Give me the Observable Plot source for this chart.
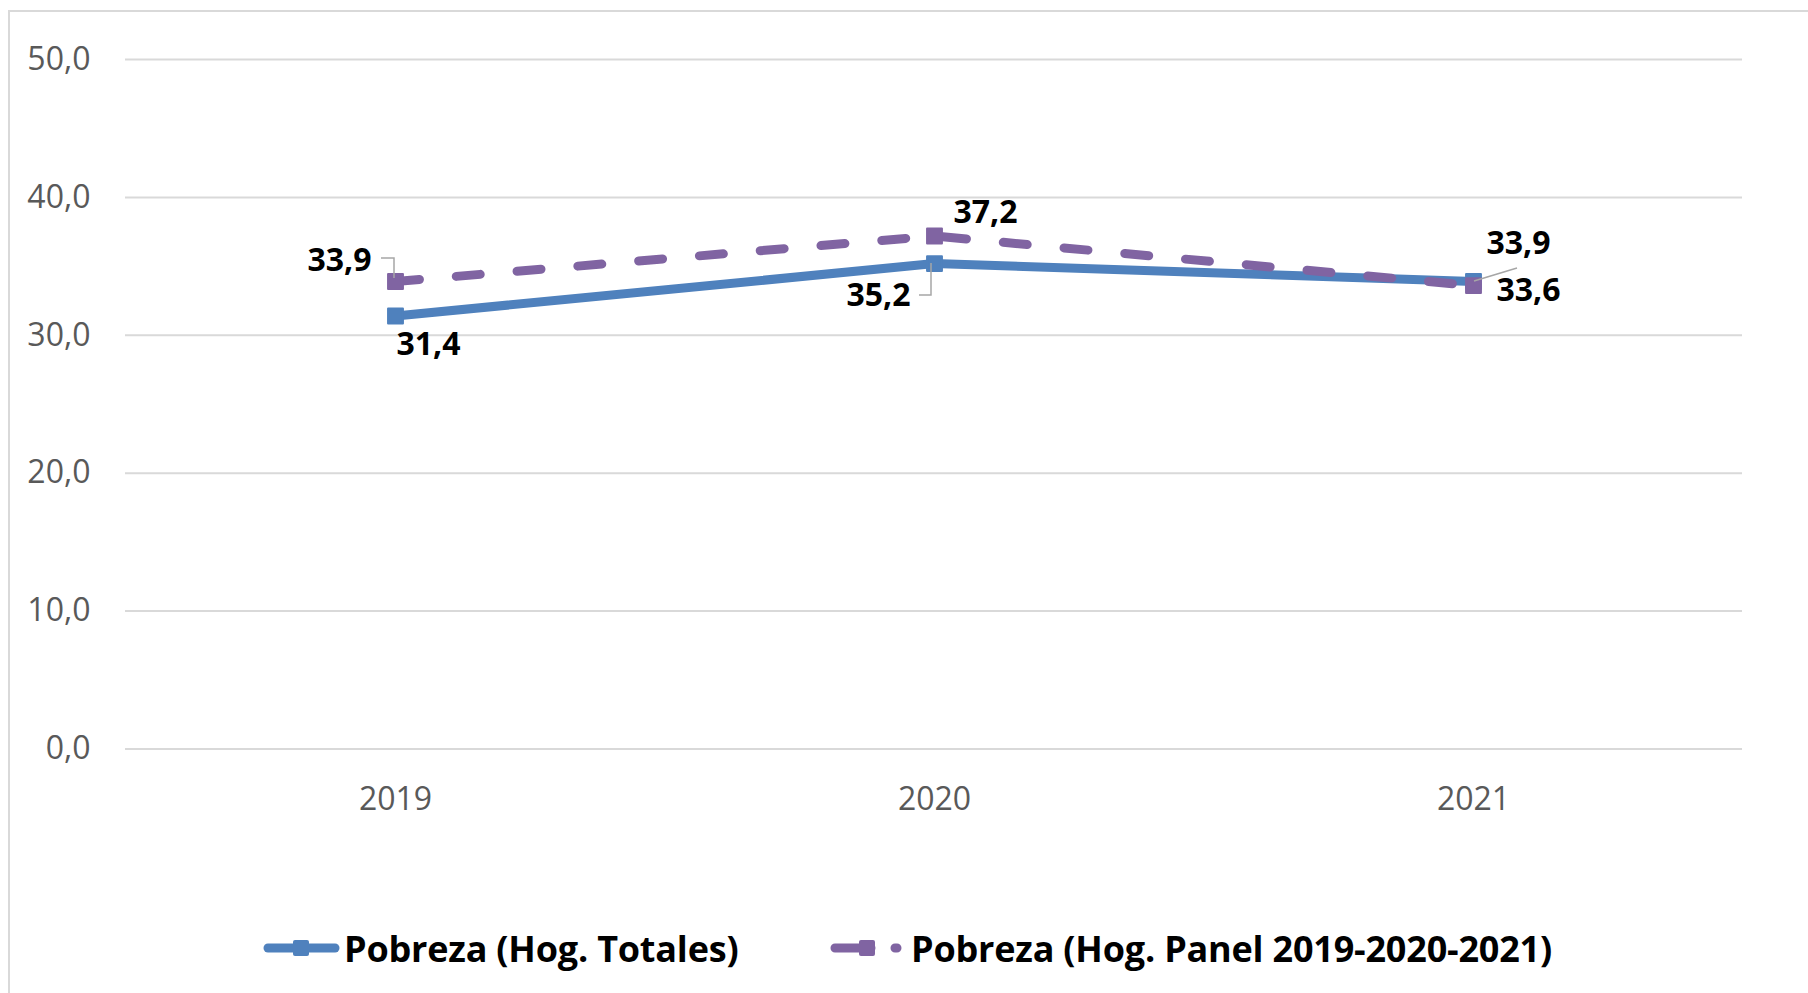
<!DOCTYPE html>
<html>
<head>
<meta charset="utf-8">
<script src="https://cdn.jsdelivr.net/npm/d3@7"></script>
<script src="https://cdn.jsdelivr.net/npm/@observablehq/plot@0.6"></script>
<style>
  html, body { margin: 0; padding: 0; background: #fff; }
  body { width: 1808px; height: 993px; overflow: hidden; position: relative; font-family: "Open Sans", sans-serif; }
  #frame { position: absolute; left: 8px; top: 10px; width: 2000px; height: 2000px; border: 2px solid #D9D9D9; box-sizing: border-box; pointer-events: none; }
  #chart { position: absolute; left: 0; top: 0; }
  .legend-item { position: absolute; top: 925px; height: 46px; display: flex; align-items: center; font-weight: 700; font-size: 36px; color: #000; white-space: nowrap; letter-spacing: -0.2px; }
  .legend-item svg { display: block; }
</style>
</head>
<body>
<div id="frame"></div>
<div id="chart"></div>
<div id="legend"></div>
<script>
// ---- data ----
const years = ["2019", "2020", "2021"];
const seriesNames = ["Pobreza (Hog. Totales)", "Pobreza (Hog. Panel 2019-2020-2021)"];
const totales = [31.4, 35.2, 33.9];
const panel = [33.9, 37.2, 33.6];
const yTicks = [0, 10, 20, 30, 40, 50];

// ---- build table ----
const colors = {[seriesNames[0]]: "#4F81BD", [seriesNames[1]]: "#8064A2"};
const rowsTot = years.map((y, i) => ({year: y, value: totales[i], series: seriesNames[0]}));
const rowsPan = years.map((y, i) => ({year: y, value: panel[i], series: seriesNames[1]}));
const fmt = v => v.toFixed(1).replace(".", ",");

// label placement (pixel offsets from the point), per series & year
const labelSpec = [
  {rows: rowsTot, year: "2019", dx: 33, dy: 29, anchor: "middle"},
  {rows: rowsTot, year: "2020", dx: -24, dy: 32, anchor: "end"},
  {rows: rowsTot, year: "2021", dx: 45, dy: -38, anchor: "middle"},
  {rows: rowsPan, year: "2019", dx: -24, dy: -21, anchor: "end"},
  {rows: rowsPan, year: "2020", dx: 51, dy: -23, anchor: "middle"},
  {rows: rowsPan, year: "2021", dx: 55, dy: 5, anchor: "middle"}
];
// leader lines (pixel offsets from the point)
const leaderSpec = [
  {rows: rowsPan, year: "2019", path: [[-14, -23], [-1, -23], [-1, -3]]},
  {rows: rowsTot, year: "2020", path: [[-15, 32], [-3, 32], [-3, 0]]},
  {rows: rowsTot, year: "2021", path: [[44, -13], [1, 0]]}
];

const lineW = 9;
const marks = [
  Plot.gridY(yTicks, {stroke: "#D9D9D9", strokeOpacity: 1, strokeWidth: 2}),
  Plot.axisY(yTicks, {tickSize: 0, tickPadding: 35, tickFormat: fmt, fontSize: 32, color: "#595959", label: null}),
  Plot.axisX({tickSize: 0, tickPadding: 38, fontSize: 32, color: "#595959", label: null}),
  Plot.line(rowsTot, {x: "year", y: "value", stroke: colors[seriesNames[0]], strokeWidth: lineW, strokeLinecap: "round", strokeLinejoin: "round"}),
  Plot.dot(rowsTot, {x: "year", y: "value", symbol: "square", r: 8.4, fill: colors[seriesNames[0]], stroke: colors[seriesNames[0]], strokeWidth: 2, strokeLinejoin: "round"}),
  Plot.line(rowsPan, {x: "year", y: "value", stroke: colors[seriesNames[1]], strokeWidth: lineW, strokeLinecap: "round", strokeDasharray: "24,37"}),
  Plot.dot(rowsPan, {x: "year", y: "value", symbol: "square", r: 8.4, fill: colors[seriesNames[1]], stroke: colors[seriesNames[1]], strokeWidth: 2, strokeLinejoin: "round"}),
  (index, scales) => {
    const g = d3.create("svg:g").attr("fill", "none").attr("stroke", "#A6A6A6").attr("stroke-width", 1.5);
    for (const L of leaderSpec) {
      const d = L.rows.find(r => r.year === L.year);
      const x0 = scales.x(d.year), y0 = scales.y(d.value);
      g.append("polyline").attr("points", L.path.map(([dx, dy]) => `${x0 + dx},${y0 + dy}`).join(" "));
    }
    return g.node();
  },
  ...labelSpec.map(L => Plot.text(L.rows.filter(r => r.year === L.year), {
    x: "year", y: "value", text: d => fmt(d.value),
    dx: L.dx, dy: L.dy, textAnchor: L.anchor, lineAnchor: "middle",
    fill: "#000", fontWeight: 700, fontSize: 32
  }))
];

const chart = Plot.plot({
  width: 1808,
  height: 860,
  marginTop: 59,
  marginBottom: 111.5,
  marginLeft: 125,
  marginRight: 66,
  style: {fontFamily: "Open Sans", background: "transparent", overflow: "visible"},
  x: {type: "point", domain: years, padding: 0.5, label: null},
  y: {domain: [0, 50], label: null},
  marks
});
document.getElementById("chart").appendChild(chart);

// ---- legend (HTML, below the SVG) ----
const legend = document.getElementById("legend");
function addItem(name, left, swatchSvg) {
  const div = document.createElement("div");
  div.className = "legend-item";
  div.style.left = left + "px";
  div.innerHTML = swatchSvg + `<span style="margin-left:4px">${name}</span>`;
  legend.appendChild(div);
}
const c0 = colors[seriesNames[0]], c1 = colors[seriesNames[1]];
addItem(seriesNames[0], 263,
  `<svg width="77" height="20"><line x1="5" y1="10" x2="72" y2="10" stroke="${c0}" stroke-width="${lineW}" stroke-linecap="round"/><rect x="30" y="2" width="16" height="16" rx="2" fill="${c0}"/></svg>`);
addItem(seriesNames[1], 830,
  `<svg width="77" height="20"><line x1="5" y1="10" x2="75" y2="10" stroke="${c1}" stroke-width="${lineW}" stroke-linecap="round" stroke-dasharray="36,24,2,100"/><rect x="29" y="2" width="16" height="16" rx="2" fill="${c1}"/></svg>`);
</script>
</body>
</html>
